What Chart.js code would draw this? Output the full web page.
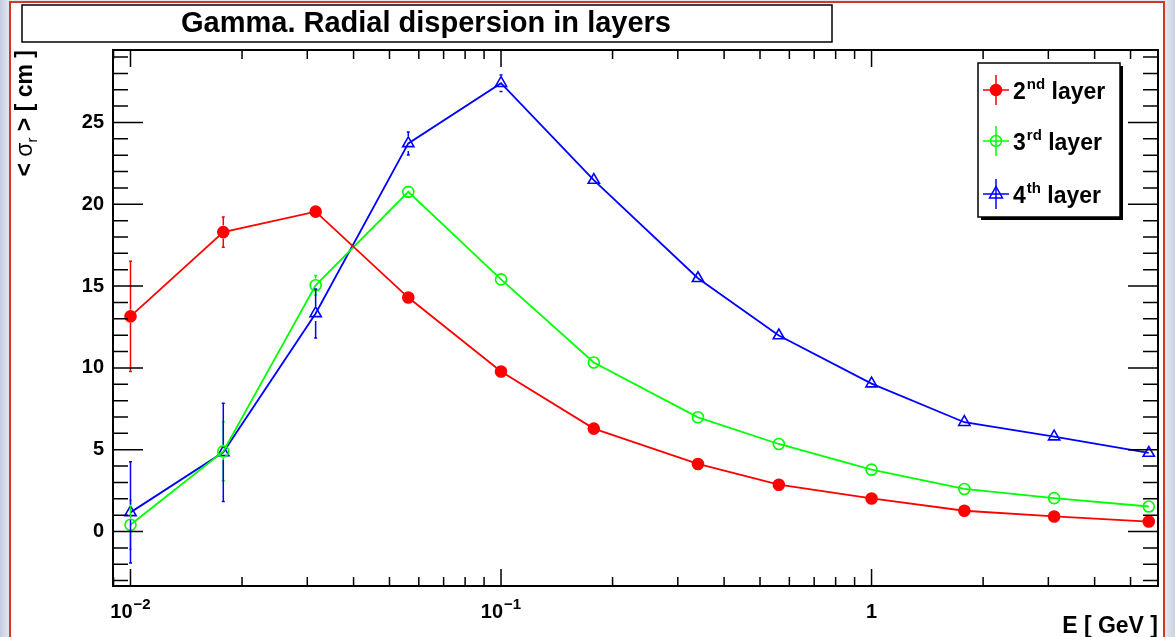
<!DOCTYPE html>
<html>
<head>
  <meta charset="utf-8">
  <title>Gamma. Radial dispersion in layers</title>
  <script src="https://cdn.jsdelivr.net/npm/chart.js@4.4.1/dist/chart.umd.min.js"></script>
  <style>
    html, body { margin: 0; padding: 0; width: 1175px; height: 637px; overflow: hidden; }
    body { background: linear-gradient(to right, #c3cce0 0px, #e2e6ef 9px, #e2e6ef 1166px, #c9d1e2 1175px); }
    #sheet { position: absolute; left: 9px; top: 1px; width: 1152px; height: 700px;
             background: #fff; border: 2.5px solid #d4391f; }
    #wrap { position: absolute; left: 0; top: 0; width: 1175px; height: 637px; }
  </style>
</head>
<body>
<div id="sheet"></div>
<div id="wrap"><canvas id="chart" width="1175" height="637"></canvas></div>

<script>
  // energies, GeV
  var energy = [0.01, 0.0178, 0.0316, 0.0562, 0.1, 0.178, 0.34, 0.562, 1, 1.78, 3.11, 5.6];

  // < sigma_r > per layer, cm
  var layer2 = [13.15, 18.3, 19.55, 14.3, 9.78, 6.29, 4.13, 2.86, 2.02, 1.27, 0.92, 0.61];
  var layer3 = [0.41, 4.9, 15.05, 20.76, 15.41, 10.33, 6.98, 5.35, 3.78, 2.6, 2.04, 1.53];
  var layer4 = [1.17, 4.84, 13.33, 23.72, 27.4, 21.48, 15.48, 11.98, 9.04, 6.68, 5.8, 4.8];

  // errors
  var err2 = [3.37, 0.93, 0.25, 0, 0, 0, 0, 0, 0, 0, 0, 0];
  var err3 = [1.5, 1.8, 0.6, 0.3, 0, 0, 0, 0, 0, 0, 0, 0];
  var err4 = [3.1, 3.0, 1.5, 0.7, 0.5, 0, 0, 0, 0, 0, 0, 0];

  var legendMain = ['2', '3', '4'];
  var legendSup = ['nd', 'rd', 'th'];
  var legendRest = ' layer';

  var xTickValues = [0.01, 0.1, 1];
  var xTickBase = ['10', '10', '1'];
  var xTickExp = ['\u22122', '\u22121', ''];

  var chartTitle = 'Gamma. Radial dispersion in layers';
  var xTitle = 'E [ GeV ]';

  var FONT = '"Liberation Sans", Arial, Helvetica, sans-serif';

  function pts(ys, es) {
    var out = [];
    for (var i = 0; i < energy.length; i++) out.push({x: energy[i], y: ys[i], e: es[i]});
    return out;
  }

  // error bars, ROOT style: only the part outside the marker
  var errorBars = {
    id: 'errorBars',
    afterDatasetsDraw: function(chart) {
      var ctx = chart.ctx, ys = chart.scales.y;
      ctx.save();
      chart.data.datasets.forEach(function(ds, di) {
        var meta = chart.getDatasetMeta(di);
        ctx.strokeStyle = ds.borderColor;
        ctx.lineWidth = 1.5;
        ds.data.forEach(function(p, i) {
          if (!p.e) return;
          var el = meta.data[i];
          var top = ys.getPixelForValue(p.y + p.e);
          var bot = ys.getPixelForValue(p.y - p.e);
          var r = ds.pointRadius + 1;
          ctx.beginPath();
          if (el.y - top > r) { ctx.moveTo(el.x, top); ctx.lineTo(el.x, el.y - r); }
          if (bot - el.y > r) { ctx.moveTo(el.x, el.y + r); ctx.lineTo(el.x, bot); }
          ctx.moveTo(el.x - 1.5, top); ctx.lineTo(el.x + 1.5, top);
          ctx.moveTo(el.x - 1.5, bot); ctx.lineTo(el.x + 1.5, bot);
          ctx.stroke();
        });
      });
      ctx.restore();
    }
  };

  function drawMarker(ctx, ds, x, y) {
    ctx.save();
    ctx.strokeStyle = ds.borderColor;
    ctx.fillStyle = ds.pointBackgroundColor;
    ctx.lineWidth = 1.5;
    var r = ds.pointRadius;
    ctx.beginPath();
    if (ds.pointStyle === 'triangle') {
      ctx.moveTo(x, y - r * 1.15);
      ctx.lineTo(x + r, y + r * 0.6);
      ctx.lineTo(x - r, y + r * 0.6);
      ctx.closePath();
    } else {
      ctx.arc(x, y, r, 0, Math.PI * 2);
    }
    ctx.fill();
    ctx.stroke();
    ctx.restore();
  }

  var rootFrame = {
    id: 'rootFrame',
    afterDraw: function(chart) {
      var ctx = chart.ctx, a = chart.chartArea;
      var xs = chart.scales.x, ys = chart.scales.y;
      ctx.save();
      ctx.strokeStyle = '#000';
      ctx.fillStyle = '#000';

      // x ticks, bottom and top
      ctx.lineWidth = 1.5;
      ctx.beginPath();
      for (var d = -3; d <= 1; d++) {
        for (var m = 1; m <= 9; m++) {
          var v = m * Math.pow(10, d);
          if (v < xs.min || v > xs.max) continue;
          var px = xs.getPixelForValue(v);
          var len = m === 1 ? 17 : 9;
          ctx.moveTo(px, a.bottom); ctx.lineTo(px, a.bottom - len);
          ctx.moveTo(px, a.top); ctx.lineTo(px, a.top + len);
        }
      }
      // y ticks, left and right
      for (var t = Math.ceil(ys.min); t <= Math.floor(ys.max); t++) {
        var py = ys.getPixelForValue(t);
        var l = (t % 5 === 0) ? 30 : 15;
        ctx.moveTo(a.left, py); ctx.lineTo(a.left + l, py);
        ctx.moveTo(a.right, py); ctx.lineTo(a.right - l, py);
      }
      ctx.stroke();

      // frame
      ctx.lineWidth = 2;
      ctx.strokeRect(a.left, a.top, a.right - a.left, a.bottom - a.top);

      // x tick labels
      ctx.textBaseline = 'alphabetic';
      ctx.textAlign = 'left';
      for (var k = 0; k < xTickValues.length; k++) {
        var cx = xs.getPixelForValue(xTickValues[k]);
        ctx.font = 'bold 20px ' + FONT;
        var w1 = ctx.measureText(xTickBase[k]).width;
        ctx.font = 'bold 15px ' + FONT;
        var w2 = xTickExp[k] ? ctx.measureText(xTickExp[k]).width + 1 : 0;
        var sx = cx - (w1 + w2) / 2;
        ctx.font = 'bold 20px ' + FONT;
        ctx.fillText(xTickBase[k], sx, 618);
        if (xTickExp[k]) {
          ctx.font = 'bold 15px ' + FONT;
          ctx.fillText(xTickExp[k], sx + w1 + 1, 609);
        }
      }

      // x title
      ctx.font = 'bold 23px ' + FONT;
      ctx.textAlign = 'right';
      ctx.fillText(xTitle, a.right, 633);

      // y title, rotated, ending at top of frame
      var parts = [
        {t: '< ', f: 'bold 23px ' + FONT, dy: 0},
        {t: '\u03c3', f: '23px ' + FONT, dy: 0},
        {t: 'r', f: '15px ' + FONT, dy: 5},
        {t: ' > [ cm ]', f: 'bold 23px ' + FONT, dy: 0}
      ];
      var total = 0;
      parts.forEach(function(p) { ctx.font = p.f; p.w = ctx.measureText(p.t).width; total += p.w; });
      ctx.save();
      ctx.translate(32, a.top + total);
      ctx.rotate(-Math.PI / 2);
      ctx.textAlign = 'left';
      var ox = 0;
      parts.forEach(function(p) { ctx.font = p.f; ctx.fillText(p.t, ox, p.dy); ox += p.w; });
      ctx.restore();

      // title box
      ctx.lineWidth = 1.5;
      ctx.fillStyle = '#fff';
      ctx.fillRect(22, 5, 810, 37);
      ctx.strokeRect(22, 5, 810, 37);
      ctx.fillStyle = '#000';
      ctx.font = 'bold 29px ' + FONT;
      ctx.textAlign = 'center';
      ctx.textBaseline = 'middle';
      ctx.fillText(chartTitle, 426, 24);

      // legend box with shadow
      var lx = 978, ly = 63, lw = 142, lh = 154;
      ctx.fillStyle = '#000';
      ctx.fillRect(lx + 3, ly + 3, lw, lh);
      ctx.fillStyle = '#fff';
      ctx.fillRect(lx, ly, lw, lh);
      ctx.lineWidth = 1.5;
      ctx.strokeRect(lx, ly, lw, lh);

      var rows = [90, 141, 194];
      chart.data.datasets.forEach(function(ds, i) {
        var mx = 996, my = rows[i];
        ctx.strokeStyle = ds.borderColor;
        ctx.lineWidth = 1.5;
        ctx.beginPath();
        ctx.moveTo(mx - 13, my); ctx.lineTo(mx + 13, my);
        ctx.moveTo(mx, my - 15); ctx.lineTo(mx, my + 15);
        ctx.stroke();
        drawMarker(ctx, ds, mx, my);
        ctx.fillStyle = '#000';
        ctx.textAlign = 'left';
        ctx.textBaseline = 'alphabetic';
        var tx = 1013, base = my + 9;
        ctx.font = 'bold 23px ' + FONT;
        ctx.fillText(legendMain[i], tx, base);
        tx += ctx.measureText(legendMain[i]).width + 1;
        ctx.font = 'bold 15px ' + FONT;
        ctx.fillText(legendSup[i], tx, base - 10);
        tx += ctx.measureText(legendSup[i]).width;
        ctx.font = 'bold 23px ' + FONT;
        ctx.fillText(legendRest, tx, base);
      });
      ctx.restore();
    }
  };

  new Chart(document.getElementById('chart'), {
    type: 'line',
    data: {
      datasets: [{
        label: '2nd layer',
        data: pts(layer2, err2),
        borderColor: '#ff0000',
        pointBackgroundColor: '#ff0000',
        pointStyle: 'circle',
        pointRadius: 5.5
      }, {
        label: '3rd layer',
        data: pts(layer3, err3),
        borderColor: '#00ff00',
        pointBackgroundColor: 'rgba(0,0,0,0)',
        pointStyle: 'circle',
        pointRadius: 5.5
      }, {
        label: '4th layer',
        data: pts(layer4, err4),
        borderColor: '#0000ff',
        pointBackgroundColor: 'rgba(0,0,0,0)',
        pointStyle: 'triangle',
        pointRadius: 6.5
      }]
    },
    options: {
      responsive: false,
      animation: false,
      layout: { padding: { left: 13, right: 17, top: 50, bottom: 51 } },
      datasets: { line: { borderWidth: 1.8, pointBorderWidth: 1.6, tension: 0, fill: false, clip: false } },
      plugins: { legend: { display: false }, tooltip: { enabled: false }, title: { display: false } },
      scales: {
        x: {
          type: 'logarithmic',
          min: 0.00897,
          max: 5.93,
          grid: { display: false, drawTicks: false },
          border: { display: false },
          ticks: { display: false },
          afterFit: function(s) { s.height = 0; }
        },
        y: {
          type: 'linear',
          min: -3.33,
          max: 29.43,
          grid: { display: false, drawTicks: false },
          border: { display: false },
          ticks: {
            stepSize: 5,
            includeBounds: false,
            padding: 9,
            color: '#000',
            font: { family: FONT, size: 20, weight: 'bold' }
          },
          afterFit: function(s) { s.width = 100; }
        }
      }
    },
    plugins: [errorBars, rootFrame]
  });
</script>
</body>
</html>
